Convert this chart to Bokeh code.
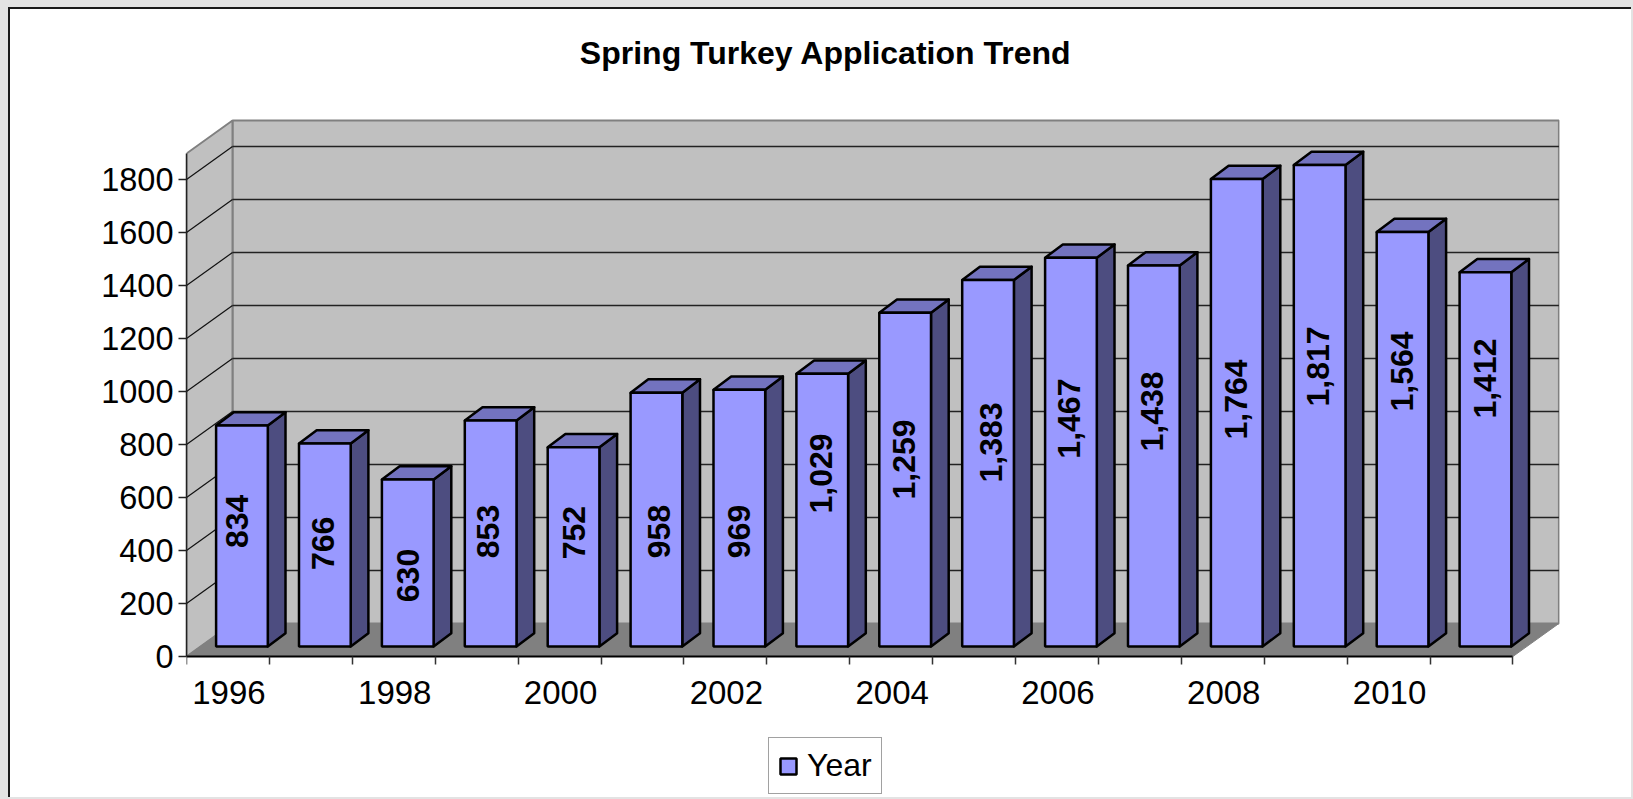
from math import pi
from bokeh.plotting import figure
from bokeh.models import Range1d, LinearAxis, FixedTicker, Legend, LegendItem, ColumnDataSource, Label
from bokeh.core.properties import value
from bokeh.embed import file_html
from bokeh.resources import INLINE

chart_title = "Spring Turkey Application Trend"
years = [1996, 1997, 1998, 1999, 2000, 2001, 2002, 2003, 2004, 2005, 2006, 2007, 2008, 2009, 2010, 2011]
applications = [834, 766, 630, 853, 752, 958, 969, 1029, 1259, 1383, 1467, 1438, 1764, 1817, 1564, 1412]
data_labels = ["834", "766", "630", "853", "752", "958", "969", "1,029", "1,259", "1,383", "1,467", "1,438", "1,764", "1,817", "1,564", "1,412"]
label_heights = [472, 389, 268, 434, 430, 434, 434, 653, 706, 770, 860, 887, 932, 1057, 1038, 1011]
label_shift_px = [-5, -2, 0, -3, 0, 3, 0, -1, -1, 3, -2, -2, -1, -2, -1, 0]
y_ticks = [0, 200, 400, 600, 800, 1000, 1200, 1400, 1600, 1800]

FONT = "Liberation Sans"
PX_X, PX_Y = 82.9, 0.265               # pixels per category, pixels per unit
WALL_DX, WALL_DY = 46 / PX_X, 33 / PX_Y  # depth of the 3D box in data units
BAR_NEAR_DX = 14 / PX_X
FOOT = 10 / PX_Y                       # foot of the bars' front face above the axis
BAR_DX, BAR_DY = 17.7 / PX_X, 13.3 / PX_Y
BAR_W = 51.7 / PX_X
WALL_TOP = 1898

n = len(years)
p = figure(width=1623, height=790, output_backend="svg", toolbar_location=None,
           x_range=Range1d(0, 1373 / PX_X), y_range=Range1d(-143 / PX_Y, 647 / PX_Y),
           x_axis_type=None, y_axis_type=None,
           min_border_left=176, min_border_right=74, min_border_top=0, min_border_bottom=0)
p.styles = {"border-left": "2px solid #1a1a1a", "border-top": "2px solid #1a1a1a", "background": "white"}
p.background_fill_color = None
p.border_fill_color = None
p.outline_line_color = None
p.grid.visible = False

p.add_layout(Label(x=639.3, y=747, x_units="screen", y_units="screen", text=chart_title,
                   text_align="center", text_baseline="middle", text_font=FONT,
                   text_font_size="32px", text_font_style="bold", text_color="black"))

WALL = "#c0c0c0"
EDGE = "#808080"
# back wall, side wall, floor
p.patch([WALL_DX, n + WALL_DX, n + WALL_DX, WALL_DX],
        [WALL_DY, WALL_DY, WALL_TOP + WALL_DY, WALL_TOP + WALL_DY],
        fill_color=WALL, line_color=EDGE, line_width=2)
p.patch([0, WALL_DX, WALL_DX, 0], [0, WALL_DY, WALL_TOP + WALL_DY, WALL_TOP],
        fill_color=WALL, line_color=EDGE, line_width=2)
p.patch([0, n, n + WALL_DX, WALL_DX], [0, 0, WALL_DY, WALL_DY],
        fill_color=EDGE, line_color=EDGE, line_width=1)

# grid lines
gv = y_ticks[1:]
p.segment(x0=[WALL_DX] * len(gv), y0=[v + WALL_DY for v in gv],
          x1=[n + WALL_DX] * len(gv), y1=[v + WALL_DY for v in gv],
          line_color="#222222", line_width=1.5)
p.segment(x0=[0] * len(gv), y0=gv, x1=[WALL_DX] * len(gv), y1=[v + WALL_DY for v in gv],
          line_color="#111111", line_width=1.2)

# 3D bars
centers = [i + 0.5 + BAR_NEAR_DX for i in range(n)]
tops = [v + FOOT for v in applications]
left = [c - BAR_W / 2 for c in centers]
right = [c + BAR_W / 2 for c in centers]

side_xs = [[r, r + BAR_DX, r + BAR_DX, r] for r in right]
side_ys = [[FOOT, FOOT + BAR_DY, t + BAR_DY, t] for t in tops]
top_xs = [[l, l + BAR_DX, r + BAR_DX, r] for l, r in zip(left, right)]
top_ys = [[t, t + BAR_DY, t + BAR_DY, t] for t in tops]

p.patches(side_xs, side_ys, fill_color="#4d4d80", line_color="black", line_width=2.5, line_join="round")
p.patches(top_xs, top_ys, fill_color="#7373bf", line_color="black", line_width=2.5, line_join="round")
bars = p.vbar(x=centers, width=BAR_W, bottom=FOOT, top=tops,
              fill_color="#9999ff", line_color="black", line_width=2.5)

# data labels
src = ColumnDataSource(dict(x=[c + s / PX_X for c, s in zip(centers, label_shift_px)],
                            y=[h + FOOT for h in label_heights], t=data_labels))
p.text(x="x", y="y", text="t", source=src, angle=pi / 2, text_align="center", text_baseline="middle",
       text_font=value(FONT), text_font_size="32px", text_font_style="bold", text_color="black")

# axes
yaxis = LinearAxis(ticker=FixedTicker(ticks=y_ticks), bounds=(0, WALL_TOP))
yaxis.axis_line_color = "#222222"
yaxis.axis_line_width = 1.5
yaxis.major_tick_in = 0
yaxis.major_tick_out = 8
yaxis.major_tick_line_color = "#222222"
yaxis.major_tick_line_width = 1.5
yaxis.minor_tick_line_color = None
yaxis.major_label_text_font = FONT
yaxis.major_label_text_font_size = "32.5px"
yaxis.major_label_text_color = "black"
yaxis.major_label_standoff = 5
p.add_layout(yaxis, "left")

label_pos = [i + 0.5 + 1 / PX_X for i in range(0, n, 2)]
xaxis = LinearAxis(ticker=FixedTicker(ticks=label_pos, minor_ticks=list(range(n + 1))), bounds=(0, n),
                   fixed_location=0)
xaxis.major_label_overrides = {x: str(years[i]) for x, i in zip(label_pos, range(0, n, 2))}
xaxis.axis_line_color = "black"
xaxis.axis_line_width = 2
xaxis.major_tick_line_color = None
xaxis.major_tick_in = 0
xaxis.major_tick_out = 0
xaxis.minor_tick_in = 0
xaxis.minor_tick_out = 8
xaxis.minor_tick_line_color = "#333333"
xaxis.minor_tick_line_width = 1.5
xaxis.major_label_text_font = FONT
xaxis.major_label_text_font_size = "33px"
xaxis.major_label_text_color = "black"
xaxis.major_label_standoff = 16
p.add_layout(xaxis, "below")

legend = Legend(items=[LegendItem(label="Year", renderers=[bars])], location=(582, 5),
                orientation="horizontal", glyph_width=20, glyph_height=20,
                label_text_font=FONT, label_text_font_size="32px", label_text_color="black",
                border_line_color="#444444", border_line_width=1.5, background_fill_color="white",
                background_fill_alpha=1, padding=9, margin=0, spacing=0, label_standoff=9)
p.add_layout(legend, "center")

html = file_html(p, INLINE)
html = html.replace("<body>", '<body style="margin:7px 0 0 8px;background:#e3e3e3;overflow:hidden">')
open("out.html", "w").write(html)
